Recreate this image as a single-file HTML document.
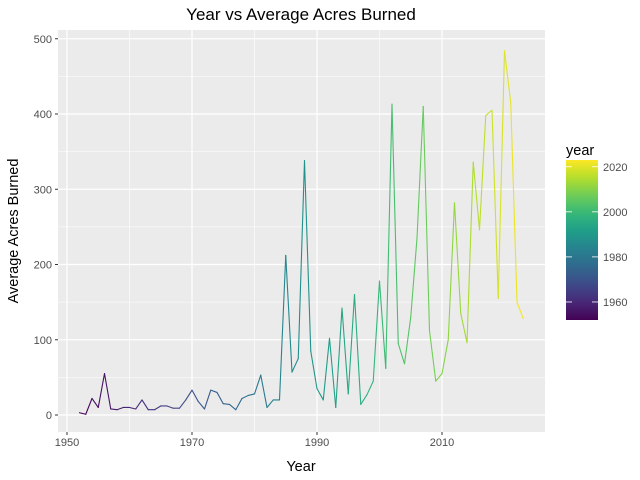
<!DOCTYPE html>
<html><head><meta charset="utf-8"><style>body{margin:0;background:#fff}svg{display:block;font-family:"Liberation Sans","DejaVu Sans",sans-serif}</style></head>
<body>
<svg id="c" width="640" height="480"></svg>
<script>
const years=[];for(let y=1952;y<=2023;y++)years.push(y);
const acres=[3,1,22,10,55,8,7,10,10,8,20,7,7,12,12,9,9,20,33,18,8,33,30,15,14,7,22,26,28,53,10,20,20,212,57,75,338,85,35,20,102,10,142,28,160,14,27,45,178,62,413,95,68,130,235,410,112,45,55,100,282,135,96,336,246,398,405,155,484,415,150,128];
const xTicks=[1950,1970,1990,2010];
const yTicks=[0,100,200,300,400,500];
const legendTicks=[1960,1980,2000,2020];
const svg=document.getElementById('c');const NS='http://www.w3.org/2000/svg';
function el(t,a,p){const e=document.createElementNS(NS,t);for(const k in a)e.setAttribute(k,a[k]);(p||svg).appendChild(e);return e;}
const X=v=>67+6.25*(v-1950);
const Y=v=>415-0.7525*v;
const vir=[[68,1,84],[72,40,120],[62,74,137],[49,104,142],[38,130,142],[31,158,137],[53,183,121],[109,205,89],[180,222,44],[253,231,37]];
function color(yr){let t=(yr-1952)/(2023-1952);t=Math.max(0,Math.min(1,t))*(vir.length-1);const i=Math.min(Math.floor(t),vir.length-2),f=t-i;const c=vir[i].map((v,k)=>Math.round(v+(vir[i+1][k]-v)*f));return `rgb(${c})`;}
let r=el('rect',{x:58,y:30,width:487,height:402,fill:'#ebebeb'});

xTicks.forEach((t,i)=>{if(i<xTicks.length-1){const m=el('line',{x1:X(t+10),x2:X(t+10),y1:30,y2:432,stroke:'#fff','stroke-width':0.6});}});
yTicks.forEach((t,i)=>{if(i<yTicks.length-1){el('line',{x1:58,x2:545,y1:Y(t+50),y2:Y(t+50),stroke:'#fff','stroke-width':0.6});}});
xTicks.forEach(t=>{const g=el('line',{x1:X(t),x2:X(t),y1:30,y2:432,stroke:'#fff','stroke-width':1.2});
el('line',{x1:X(t),x2:X(t),y1:432,y2:435,stroke:'#333'});
const tx=el('text',{x:X(t),y:446,'text-anchor':'middle','font-size':11,fill:'#4d4d4d'});tx.textContent=t;});
yTicks.forEach(t=>{const g=el('line',{x1:58,x2:545,y1:Y(t),y2:Y(t),stroke:'#fff','stroke-width':1.2});
el('line',{x1:55,x2:58,y1:Y(t),y2:Y(t),stroke:'#333'});
const tx=el('text',{x:52,y:Y(t)+4,'text-anchor':'end','font-size':11,fill:'#4d4d4d'});tx.textContent=t;});
for(let i=0;i<years.length-1;i++){const s=el('line',{x1:X(years[i]),y1:Y(acres[i]),x2:X(years[i+1]),y2:Y(acres[i+1]),stroke:color(years[i]),'stroke-width':1.1,'stroke-linecap':'round'});
}
let t=el('text',{x:301,y:20,'text-anchor':'middle','font-size':17,fill:'#000'});t.textContent='Year vs Average Acres Burned';
t=el('text',{x:301,y:471,'text-anchor':'middle','font-size':14.5,fill:'#000'});t.textContent='Year';
t=el('text',{x:0,y:0,'text-anchor':'middle','font-size':14.5,fill:'#000',transform:'translate(18,231) rotate(-90)'});t.textContent='Average Acres Burned';
t=el('text',{x:566,y:155,'font-size':14.5,fill:'#000'});t.textContent='year';
const defs=el('defs',{});const lg=el('linearGradient',{id:'g',x1:0,y1:1,x2:0,y2:0},defs);
for(let k=0;k<=20;k++){const yr=1952+(2023-1952)*k/20;el('stop',{offset:k/20,'stop-color':color(yr)},lg);}
const LY=v=>320-(v-1952)*(160/71);
let cb=el('rect',{x:566,y:160,width:32,height:160,fill:'url(#g)'});
legendTicks.forEach(v=>{el('line',{x1:566,x2:572,y1:LY(v),y2:LY(v),stroke:'#fff','stroke-width':0.8});el('line',{x1:592,x2:598,y1:LY(v),y2:LY(v),stroke:'#fff','stroke-width':0.8});
const tx=el('text',{x:603,y:LY(v)+4,'font-size':11,fill:'#4d4d4d'});tx.textContent=v;});
</script>
</body></html>
